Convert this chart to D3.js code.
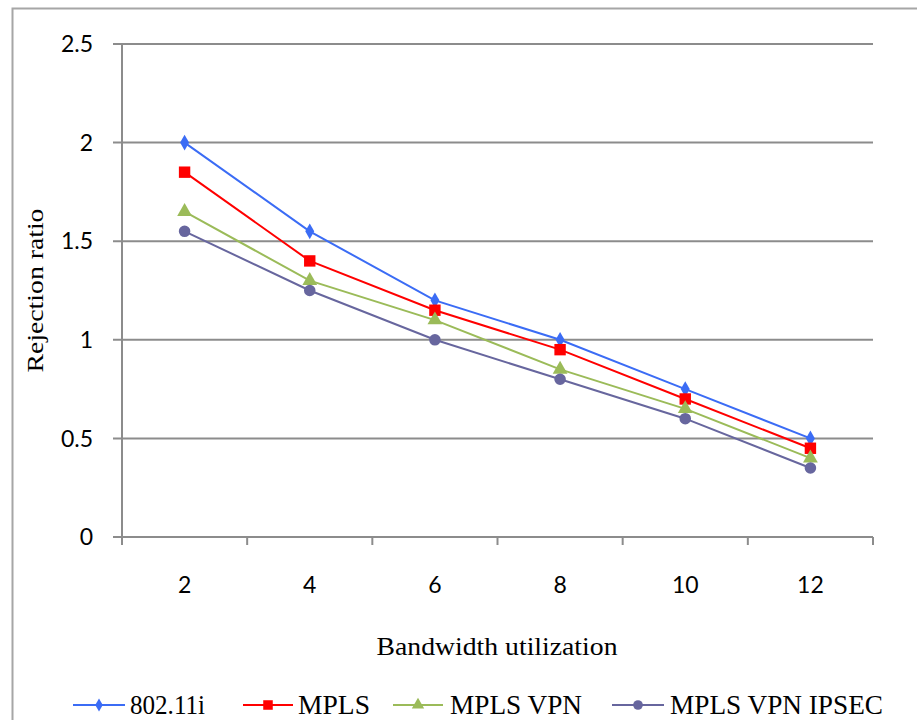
<!DOCTYPE html>
<html>
<head>
<meta charset="utf-8">
<script src="https://cdn.jsdelivr.net/npm/d3@7"></script>
<style>
  html, body { margin: 0; padding: 0; background: #fff; }
  svg { display: block; }
</style>
</head>
<body>
<svg id="chart" width="917" height="720"></svg>
<script>
// Bandwidth utilization categories
const categories = ["2", "4", "6", "8", "10", "12"];

// Rejection ratio per protocol
const series80211i = [2.0, 1.55, 1.2, 1.0, 0.75, 0.5];
const seriesMPLS = [1.85, 1.4, 1.15, 0.95, 0.7, 0.45];
const seriesMPLSVPN = [1.65, 1.3, 1.1, 0.85, 0.65, 0.4];
const seriesMPLSVPNIPSEC = [1.55, 1.25, 1.0, 0.8, 0.6, 0.35];

const seriesNames = ["802.11i", "MPLS", "MPLS VPN", "MPLS VPN IPSEC"];
const yTicks = [0, 0.5, 1, 1.5, 2, 2.5];

const series = [
  { name: seriesNames[0], values: series80211i, color: "#3b6cf5", symbol: d3.symbolDiamond, size: 70 },
  { name: seriesNames[1], values: seriesMPLS, color: "#ff0000", symbol: d3.symbolSquare, size: 130 },
  { name: seriesNames[2], values: seriesMPLSVPN, color: "#9bbb59", symbol: d3.symbolTriangle, size: 95 },
  { name: seriesNames[3], values: seriesMPLSVPNIPSEC, color: "#67669e", symbol: d3.symbolCircle, size: 105 }
];

const svg = d3.select("#chart");
const grid = "#8c8c8c";

// outer chart frame (open on right and bottom edges of the window)
svg.append("path")
  .attr("d", "M12.5,720 L12.5,8.5 L917,8.5")
  .attr("fill", "none").attr("stroke", "#a6a6a6").attr("stroke-width", 2);

const plot = { left: 122, right: 873, top: 44, bottom: 537 };

const x = d3.scaleBand().domain(categories).range([plot.left, plot.right]);
const y = d3.scaleLinear().domain([0, 2.5]).range([plot.bottom, plot.top]);

// horizontal gridlines with left tick stubs
svg.append("g").selectAll("line").data(yTicks.filter(d => d > 0)).join("line")
  .attr("x1", plot.left - 9).attr("x2", plot.right)
  .attr("y1", d => y(d)).attr("y2", d => y(d))
  .attr("stroke", grid).attr("stroke-width", 2);

// y axis
svg.append("line")
  .attr("x1", plot.left).attr("x2", plot.left)
  .attr("y1", plot.top).attr("y2", plot.bottom)
  .attr("stroke", grid).attr("stroke-width", 2);

// x axis with ticks between categories
svg.append("line")
  .attr("x1", plot.left - 9).attr("x2", plot.right)
  .attr("y1", plot.bottom).attr("y2", plot.bottom)
  .attr("stroke", grid).attr("stroke-width", 2);

const bounds = categories.map(c => x(c)).concat([plot.right]);
svg.append("g").selectAll("line").data(bounds).join("line")
  .attr("x1", d => d).attr("x2", d => d)
  .attr("y1", plot.bottom).attr("y2", plot.bottom + 8)
  .attr("stroke", grid).attr("stroke-width", 2);

// y tick labels
svg.append("g").selectAll("text").data(yTicks).join("text")
  .attr("x", 93).attr("y", d => y(d))
  .attr("dy", "0.36em")
  .attr("text-anchor", "end")
  .attr("font-family", "Lato, 'Open Sans', sans-serif")
  .attr("font-size", 23)
  .attr("fill", "#000")
  .text(d => d);

// x tick labels
svg.append("g").selectAll("text").data(categories).join("text")
  .attr("x", d => x(d) + x.bandwidth() / 2).attr("y", 593)
  .attr("text-anchor", "middle")
  .attr("font-family", "Lato, 'Open Sans', sans-serif")
  .attr("font-size", 23)
  .attr("fill", "#000")
  .text(d => d);

// axis titles
svg.append("text")
  .attr("x", 497).attr("y", 655)
  .attr("text-anchor", "middle")
  .attr("font-family", "'Liberation Serif', 'Times New Roman', serif")
  .attr("font-size", 25)
  .attr("textLength", 241).attr("lengthAdjust", "spacingAndGlyphs")
  .text("Bandwidth utilization");

svg.append("text")
  .attr("transform", `translate(43, ${(plot.top + plot.bottom) / 2}) rotate(-90)`)
  .attr("text-anchor", "middle")
  .attr("font-family", "'Liberation Serif', 'Times New Roman', serif")
  .attr("font-size", 23)
  .attr("textLength", 164).attr("lengthAdjust", "spacingAndGlyphs")
  .text("Rejection ratio");

// series lines and markers
const cx = i => x(categories[i]) + x.bandwidth() / 2;
const line = d3.line().x((d, i) => cx(i)).y(d => y(d));

series.forEach(s => {
  svg.append("path")
    .attr("d", line(s.values))
    .attr("fill", "none").attr("stroke", s.color).attr("stroke-width", 2);
  svg.append("g").selectAll("path").data(s.values).join("path")
    .attr("transform", (d, i) => `translate(${cx(i)},${y(d)})`)
    .attr("d", d3.symbol().type(s.symbol).size(s.size))
    .attr("fill", s.color);
});

// legend
const legendItems = [
  { x0: 73, x1: 125, tx: 130, w: 75 },
  { x0: 243, x1: 293, tx: 298, w: 72 },
  { x0: 393, x1: 443, tx: 450, w: 132 },
  { x0: 612, x1: 664, tx: 670, w: 213 }
];
const ly = 705;
series.forEach((s, i) => {
  const L = legendItems[i];
  const g = svg.append("g");
  g.append("line").attr("x1", L.x0).attr("x2", L.x1).attr("y1", ly).attr("y2", ly)
    .attr("stroke", s.color).attr("stroke-width", 2);
  g.append("path")
    .attr("transform", `translate(${(L.x0 + L.x1) / 2},${ly})`)
    .attr("d", d3.symbol().type(s.symbol).size(s.size * 0.7))
    .attr("fill", s.color);
  g.append("text")
    .attr("x", L.tx).attr("y", ly + 9)
    .attr("font-family", "'Liberation Serif', 'Times New Roman', serif")
    .attr("font-size", 27)
    .attr("textLength", L.w).attr("lengthAdjust", "spacingAndGlyphs")
    .text(s.name);
});
</script>
</body>
</html>
